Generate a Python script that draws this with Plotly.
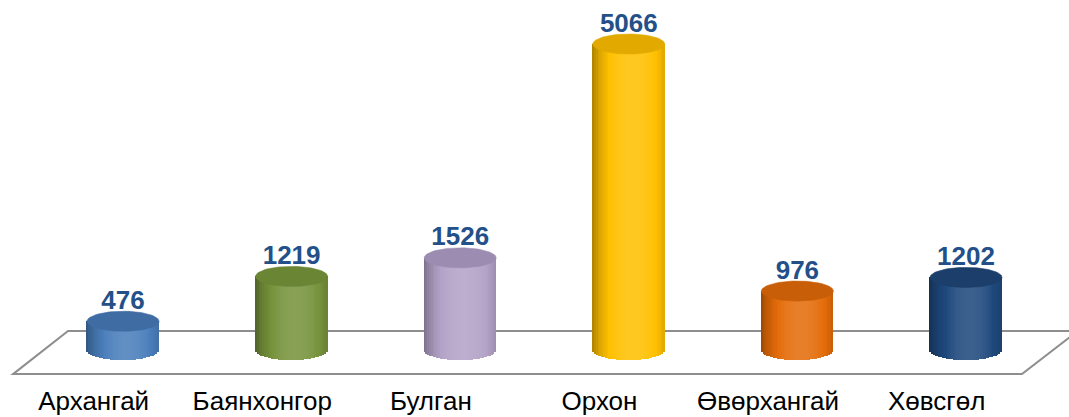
import numpy as np
import plotly.graph_objects as go

# ---- data ----
categories = ["Архангай", "Баянхонгор", "Булган", "Орхон", "Өвөрхангай", "Хөвсгөл"]
values = [476, 1219, 1526, 5066, 976, 1202]
value_labels = ["476", "1219", "1526", "5066", "976", "1202"]

# ---- styles ----
base_colors = ["#4A7EBB", "#77933C", "#B3A2C7", "#FFC000", "#E46C0A", "#1F497D"]
top_colors = ["#3F6CA3", "#6A8534", "#9D8CB2", "#E2AA00", "#C95E08", "#1B3E6A"]
label_color = "#24508A"
FONT = "Arial, Liberation Sans, sans-serif"

idx = np.arange(len(categories))
bar_w = 0.427          # cylinder width in x units
ry = 166.0             # ellipse half-height in value units
n_strips = 40

def hex2rgb(h):
    h = h.lstrip("#")
    return np.array([int(h[i:i + 2], 16) for i in (0, 2, 4)], dtype=float)

def shade(hexc, f):
    c = hex2rgb(hexc)
    if f >= 1:
        c = c + (255 - c) * (f - 1)
    else:
        c = c * f
    c = np.clip(c, 0, 255).astype(int)
    return "rgb(%d,%d,%d)" % tuple(c)

def profile(t):
    # dark edges, highlight slightly right of centre
    return 0.66 + 0.47 * (1 - ((t - 0.12) / 1.12) ** 2) ** 0.8

fig = go.Figure()

# floor (axis decoration)
floor_path = "M -0.326 316 L 5.664 316 L 5.332 -399 L -0.652 -399 Z"
fig.add_shape(type="path", path=floor_path, xref="x", yref="y",
              line=dict(color="#8E8E8E", width=2), fillcolor="white", layer="below")

# cylinder bodies as shaded strips
sw = bar_w / n_strips
for k in range(n_strips):
    t = -1 + (2 * k + 1) / n_strips
    off = t * bar_w / 2
    dip = ry * np.sqrt(max(0.0, 1 - t * t))
    f = profile(t)
    fig.add_trace(go.Bar(
        x=idx + off,
        y=[v + dip for v in values],
        base=[-dip] * len(values),
        width=sw * 1.08,
        marker=dict(color=[shade(c, f) for c in base_colors], line=dict(width=0)),
        showlegend=False, hoverinfo="skip",
    ))

# top ellipses
theta = np.linspace(0, 2 * np.pi, 90)
for i, v in enumerate(values):
    fig.add_trace(go.Scatter(
        x=i + (bar_w / 2) * np.cos(theta),
        y=v + ry * np.sin(theta),
        mode="lines", fill="toself", fillcolor=top_colors[i],
        line=dict(width=0.6, color=top_colors[i]),
        showlegend=False, hoverinfo="skip",
    ))

# value labels
fig.add_trace(go.Scatter(
    x=idx, y=[v + ry * 0.6 for v in values], mode="text", text=value_labels,
    textposition="top center",
    textfont=dict(family=FONT, size=26, color=label_color, weight="bold"),
    showlegend=False, hoverinfo="skip",
))

fig.update_layout(
    width=1069, height=417,
    margin=dict(l=0, r=0, t=0, b=34),
    paper_bgcolor="white", plot_bgcolor="white",
    barmode="overlay", bargap=0,
    xaxis=dict(range=[-0.7295, 5.6109], showgrid=False, zeroline=False,
               showline=False, tickvals=idx - 0.174, ticktext=categories,
               ticks="", automargin=False,
               tickfont=dict(family=FONT, size=26, color="black")),
    yaxis=dict(range=[-546, 5795], showgrid=False, zeroline=False,
               showline=False, showticklabels=False),
)

fig.write_html("out.html", config={"displayModeBar": False},
               post_script="document.body.style.margin='0';"
                           "document.body.style.overflow='hidden';")
